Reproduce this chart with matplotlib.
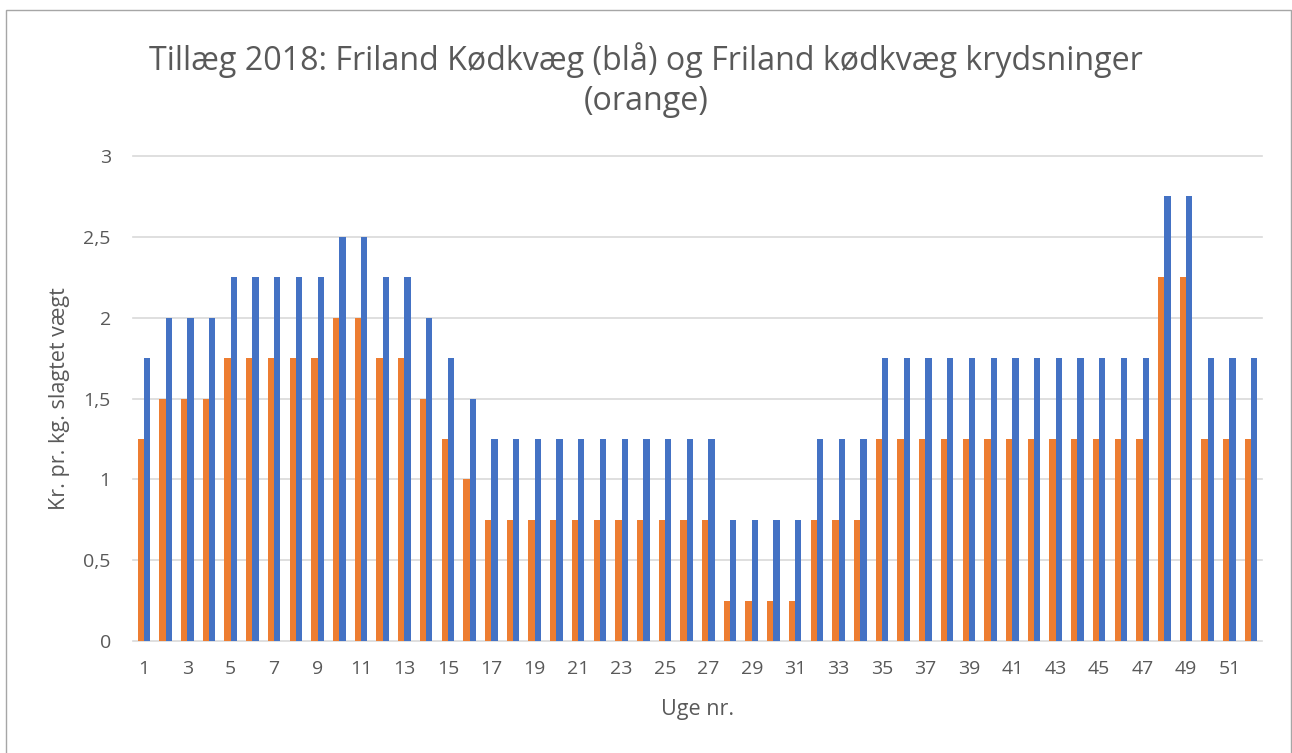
import matplotlib
matplotlib.use("Agg")
import matplotlib.pyplot as plt
from matplotlib.patches import Rectangle
import numpy as np

weeks = list(range(1, 53))
friland_koedkvaeg = [1.75, 2, 2, 2, 2.25, 2.25, 2.25, 2.25, 2.25, 2.5, 2.5, 2.25, 2.25, 2, 1.75, 1.5,
                     1.25, 1.25, 1.25, 1.25, 1.25, 1.25, 1.25, 1.25, 1.25, 1.25, 1.25,
                     0.75, 0.75, 0.75, 0.75,
                     1.25, 1.25, 1.25,
                     1.75, 1.75, 1.75, 1.75, 1.75, 1.75, 1.75, 1.75, 1.75, 1.75, 1.75, 1.75, 1.75,
                     2.75, 2.75,
                     1.75, 1.75, 1.75]
krydsninger = [1.25, 1.5, 1.5, 1.5, 1.75, 1.75, 1.75, 1.75, 1.75, 2, 2, 1.75, 1.75, 1.5, 1.25, 1,
               0.75, 0.75, 0.75, 0.75, 0.75, 0.75, 0.75, 0.75, 0.75, 0.75, 0.75,
               0.25, 0.25, 0.25, 0.25,
               0.75, 0.75, 0.75,
               1.25, 1.25, 1.25, 1.25, 1.25, 1.25, 1.25, 1.25, 1.25, 1.25, 1.25, 1.25, 1.25,
               2.25, 2.25,
               1.25, 1.25, 1.25]
y_ticks = [0, 0.5, 1, 1.5, 2, 2.5, 3]
y_ticklabels = ["0", "0,5", "1", "1,5", "2", "2,5", "3"]
title = "Tillæg 2018: Friland Kødkvæg (blå) og Friland kødkvæg krydsninger\n(orange)"
xlabel = "Uge nr."
ylabel = "Kr. pr. kg. slagtet vægt"

plt.rcParams['font.family'] = ['Open Sans', 'DejaVu Sans']
TXT = '#595959'
W, H = 1292, 753
fig = plt.figure(figsize=(W / 100, H / 100), dpi=100)
fig.patch.set_facecolor('white')

# chart border
fig.patches.append(Rectangle((6 / W, -0.05), (1291 - 6) / W, 1 - 10 / H + 0.05,
                             transform=fig.transFigure, fill=False,
                             edgecolor='#A6A6A6', linewidth=1.0))

ax_bottom, ax_top = 641, 156
ax = fig.add_axes([133 / W, 1 - ax_bottom / H, (1262 - 133) / W, (ax_bottom - ax_top) / H])
x = np.arange(len(weeks))
bw = 0.29
ax.bar(x - bw / 2, krydsninger, width=bw, color='#ED7D31', zorder=3)
ax.bar(x + bw / 2, friland_koedkvaeg, width=bw, color='#4472C4', zorder=3)

ax.set_xlim(-0.5, len(weeks) - 0.5)
ax.set_ylim(0, 3)
ax.set_yticks(y_ticks)
ax.set_yticklabels(y_ticklabels)
ax.set_xticks(x[::2])
ax.set_xticklabels([str(w) for w in weeks[::2]])
for yv in y_ticks[1:]:
    ax.axhline(yv, color='#D9D9D9', linewidth=1.2, zorder=1, clip_on=False)
for s in ['top', 'right', 'left']:
    ax.spines[s].set_visible(False)
ax.spines['bottom'].set_color('#D9D9D9')
ax.spines['bottom'].set_linewidth(1.2)
ax.tick_params(axis='both', length=0, labelsize=14, colors=TXT)
ax.tick_params(axis='y', pad=16)
ax.tick_params(axis='x', pad=14)

ax.set_xlabel(xlabel, fontsize=15.5, color=TXT)
ax.set_ylabel(ylabel, fontsize=15.5, color=TXT)
ax.xaxis.set_label_coords(0.5, (ax_bottom - 699) / (ax_bottom - ax_top))
ax.yaxis.set_label_coords((70 - 133) / 1129, 0.5)

fig.text(0.5, 1 - 80 / H, title, ha='center', va='center', fontsize=23.2, color=TXT,
         linespacing=1.25)

fig.savefig('out.png', dpi=100)
